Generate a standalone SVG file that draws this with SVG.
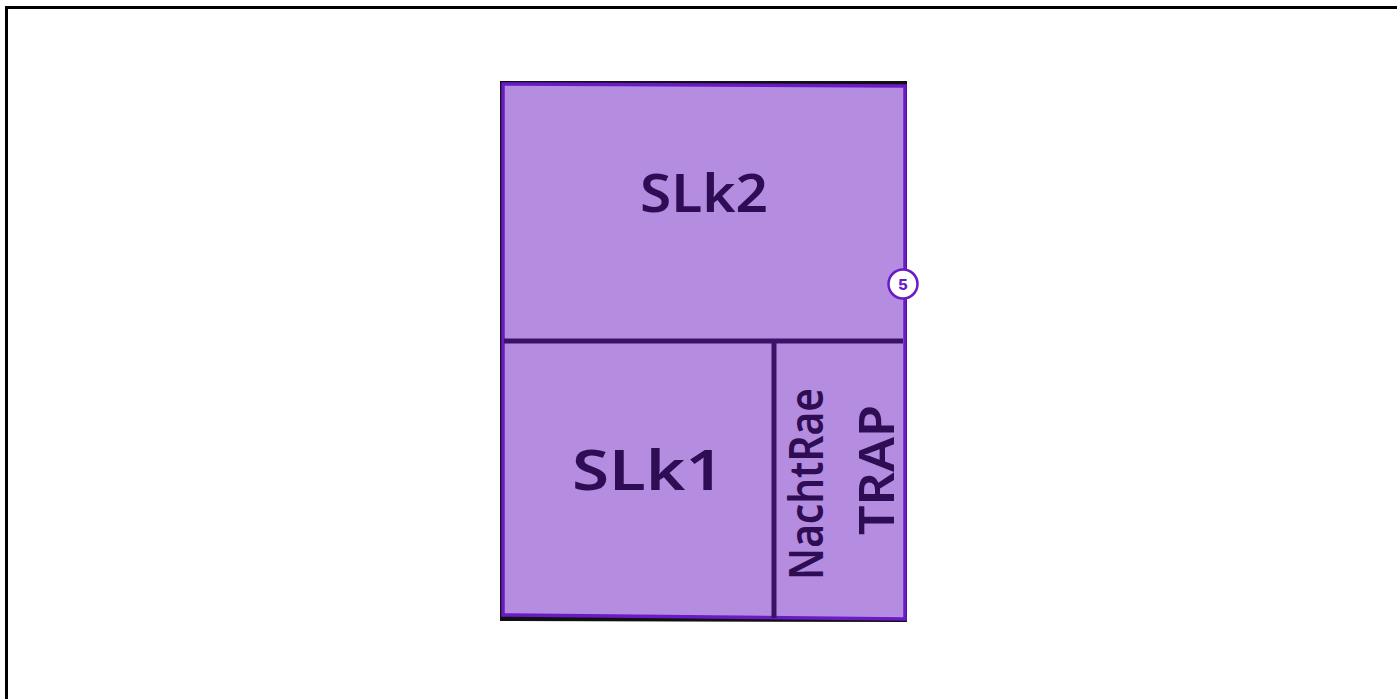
<svg xmlns="http://www.w3.org/2000/svg" width="1397" height="699" viewBox="0 0 1397 699">
<style>
.hand{font-family:"Noto Sans","DejaVu Sans",sans-serif;font-weight:600;fill:#2e0d55}
.div{stroke:#3a1268;stroke-width:5;fill:none}
</style>
<rect x="0" y="0" width="1397" height="699" fill="#ffffff"/>
<rect x="6.5" y="7.5" width="1400" height="700" fill="#ffffff" stroke="#000000" stroke-width="3"/>
<g id="plan">
<polygon points="500,81 907,81 907,622 500,621" fill="#111111"/>
<polygon points="503,84 905,86 905,619 503,615" fill="#b48ce0" stroke="#6a1bc6" stroke-width="3.5"/>
</g>
<g id="dividers">
<line class="div" x1="504" y1="341" x2="903" y2="341"/>
<line class="div" x1="774" y1="341" x2="774" y2="618"/>
</g>
<g id="slk2">
<text class="hand" x="640" y="212" font-size="52" textLength="128" lengthAdjust="spacingAndGlyphs">SLk2</text>
</g>
<g id="slk1">
<text class="hand" x="572" y="490" font-size="56" textLength="152" lengthAdjust="spacingAndGlyphs">SLk1</text>
</g>
<g id="nachtrae">
<text class="hand" transform="translate(823,580) rotate(-90)" font-size="46" textLength="192" lengthAdjust="spacingAndGlyphs">NachtRae</text>
</g>
<g id="trap">
<text class="hand" transform="translate(894,535) rotate(-90)" font-size="48" textLength="130" lengthAdjust="spacingAndGlyphs">TRAP</text>
</g>
<g id="badge">
<circle cx="903" cy="284" r="14.5" fill="#ffffff" stroke="#6a1bc6" stroke-width="2.5"/>
<text x="903" y="289.5" text-anchor="middle" font-family="Inter,'Noto Sans',sans-serif" font-weight="800" font-size="15" fill="#6a1bc6">5</text>
</g>
</svg>
